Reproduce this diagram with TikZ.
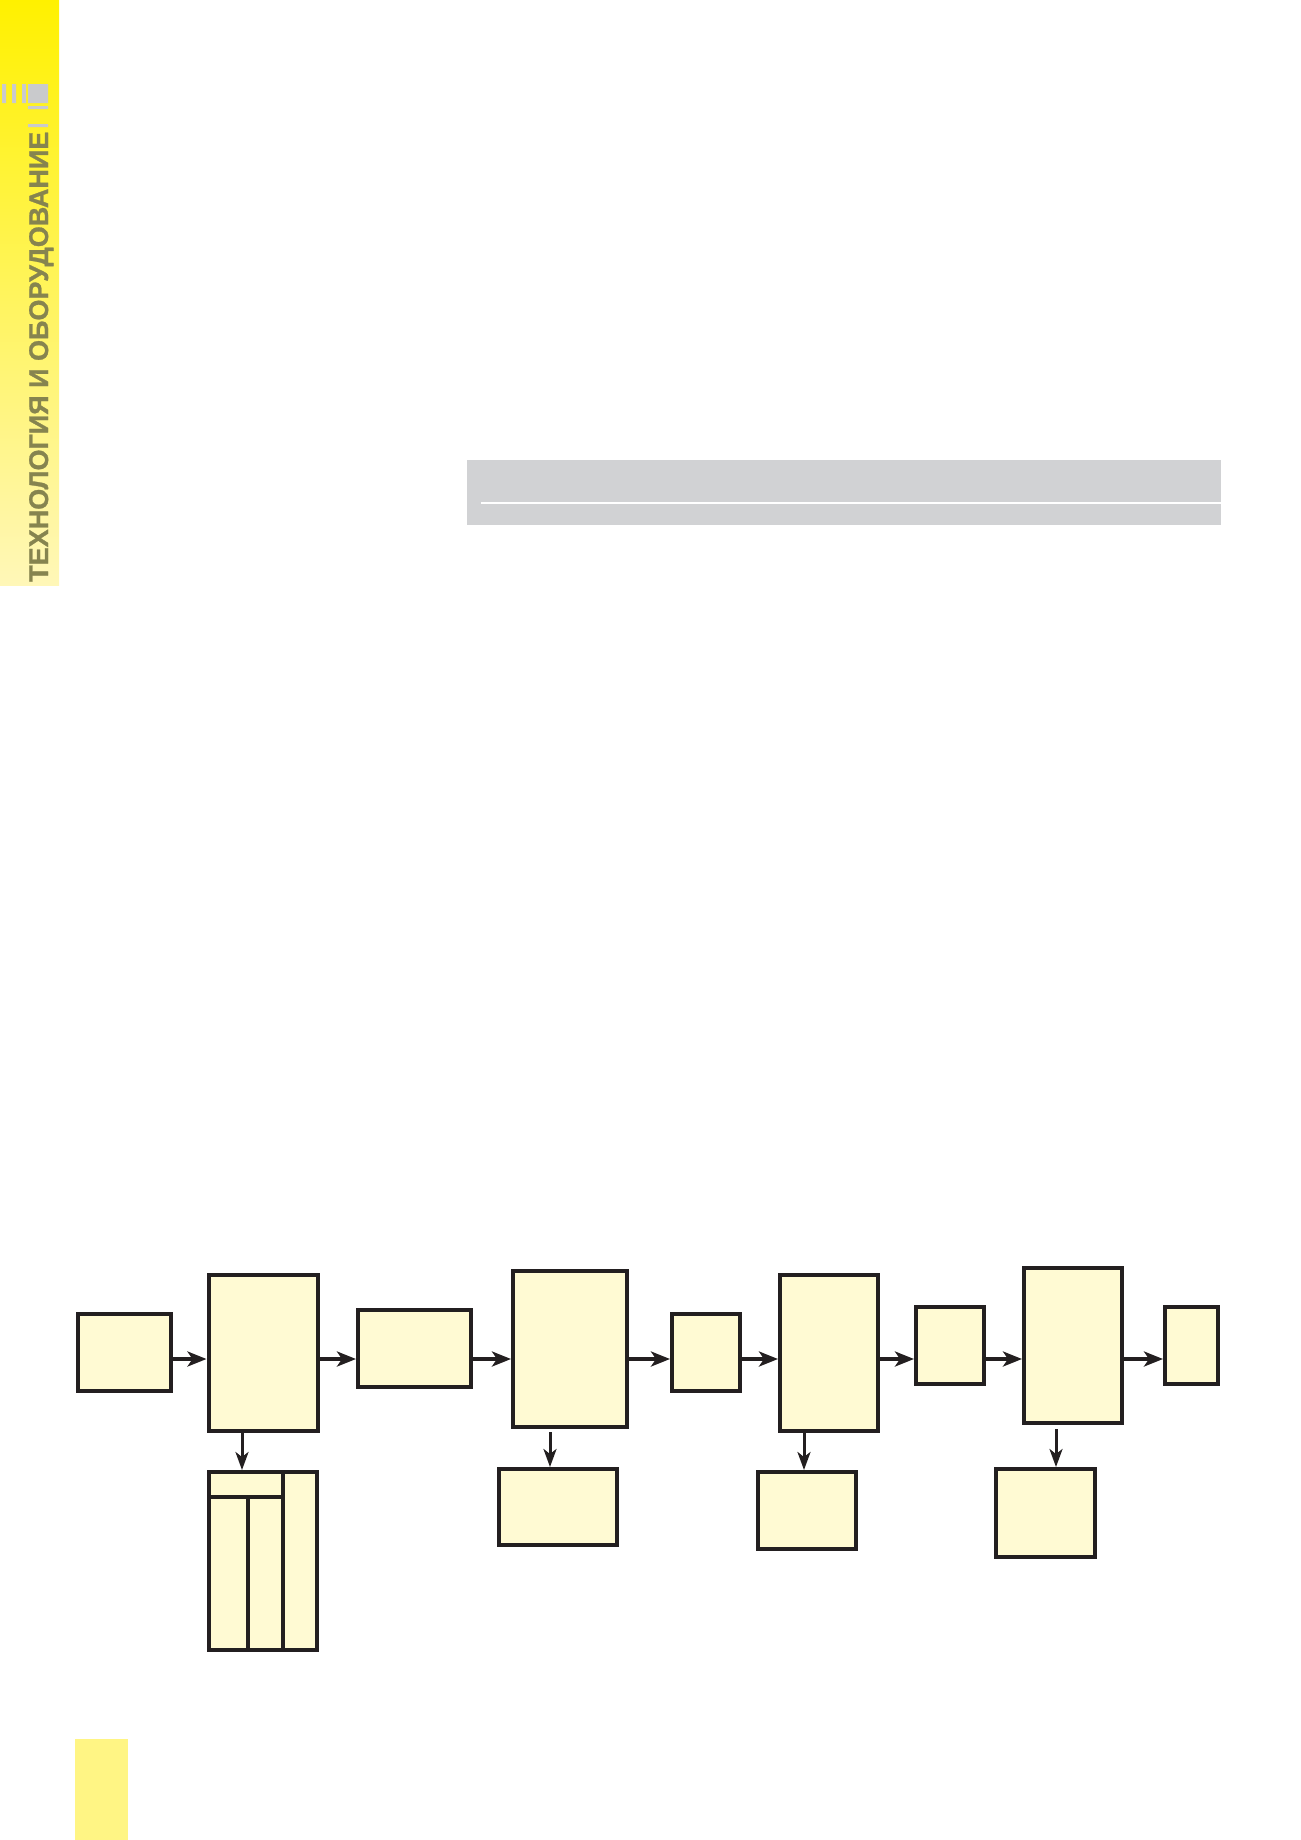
\documentclass[tikz,border=0pt]{standalone}
\usepackage{fontspec}
\usetikzlibrary{arrows.meta}
\newfontfamily\headfont{Liberation Sans Bold}[FakeBold=1]
\definecolor{boxfill}{HTML}{FFFAD3}
\definecolor{boxline}{HTML}{231F20}
\definecolor{barfill}{HTML}{D1D2D4}
\definecolor{stripTop}{HTML}{FFF100}
\definecolor{stripBot}{HTML}{FFF7B8}
\definecolor{stripText}{HTML}{86844F}
\definecolor{markgray}{HTML}{C9CACC}
\definecolor{pageyellow}{HTML}{FFF584}
\begin{document}
\begin{tikzpicture}[x=1pt,y=-1pt,
  block/.style={draw=boxline,fill=boxfill,line width=4pt,inner sep=0pt},
  flow/.style={every edge/.style={draw=boxline,line width=4pt,
    -{Stealth[length=19pt,width=15pt,inset=5pt]}}},
  drop/.style={every edge/.style={draw=boxline,line width=3pt,
    -{Stealth[length=18pt,width=13pt,inset=5pt]}}}]
  \useasboundingbox (0,0) rectangle (1301,1840);
  \shade[top color=stripTop,bottom color=stripBot] (0,0) rectangle (59,585);
  \fill[markgray] (2,84) rectangle (6,103) (12,84) rectangle (16,103)
    (22,84) rectangle (26,103) (28,84) rectangle (48,103)
    (28,106) rectangle (48,109) (28,124) rectangle (48,127);
  \node (title) [rotate=90, anchor=base west, inner sep=0pt, text=stripText,
    font=\headfont\fontsize{27}{30}\selectfont] at (48,582)
    {ТЕХНОЛОГИЯ И ОБОРУДОВАНИЕ};
  \fill[barfill] (467,460) rectangle (1221,525);
  \draw[white, line width=2.5pt] (481,503) -- (1221,503);
  \fill[pageyellow] (75,1739) rectangle (128,1840);

  \node (b1) [block, minimum width=93pt, minimum height=77pt] at (124.5,1352.5) {};
  \node (b2) [block, minimum width=109pt, minimum height=156pt] at (263,1353) {};
  \node (b3) [block, minimum width=113pt, minimum height=77pt] at (414.5,1348.5) {};
  \node (b4) [block, minimum width=114pt, minimum height=156pt] at (570,1349) {};
  \node (b5) [block, minimum width=68pt, minimum height=77pt] at (706,1352.5) {};
  \node (b6) [block, minimum width=98pt, minimum height=156pt] at (829,1353) {};
  \node (b7) [block, minimum width=68pt, minimum height=77pt] at (950,1345.5) {};
  \node (b8) [block, minimum width=98pt, minimum height=155pt] at (1073,1345.5) {};
  \node (b9) [block, minimum width=53pt, minimum height=77pt] at (1191.5,1345.5) {};
  \node (tab) [block, minimum width=108pt, minimum height=178pt] at (263,1561) {};
  \node (s4) [block, minimum width=118pt, minimum height=76pt] at (558,1507) {};
  \node (s6) [block, minimum width=98pt, minimum height=77pt] at (807,1510.5) {};
  \node (s8) [block, minimum width=99pt, minimum height=88pt] at (1045.5,1513) {};
  \draw[boxline, line width=4pt] ([yshift=-26.5pt]tab.north west) -- ([xshift=20pt,yshift=-26.5pt]tab.north)
    ([xshift=20pt]tab.north) -- ([xshift=20pt]tab.south)
    ([xshift=-15pt,yshift=-26.5pt]tab.north) -- ([xshift=-15pt]tab.south);

  \coordinate (axis) at (0,1359);
  \path[flow] (b1.east |- axis) edge (b2.west |- axis)
              (b2.east |- axis) edge (b3.west |- axis)
              (b3.east |- axis) edge (b4.west |- axis)
              (b4.east |- axis) edge (b5.west |- axis)
              (b5.east |- axis) edge (b6.west |- axis)
              (b6.east |- axis) edge (b7.west |- axis)
              (b7.east |- axis) edge (b8.west |- axis)
              (b8.east |- axis) edge (b9.west |- axis)
              ;
  \path[drop] ([xshift=-21pt]b2.south) edge ([xshift=-21pt]tab.north)
              ([xshift=-20pt,yshift=-3pt]b4.south) edge ([xshift=-8pt]s4.north)
              ([xshift=-25pt]b6.south) edge ([xshift=-3pt]s6.north)
              ([xshift=-17pt,yshift=-4pt]b8.south) edge ([xshift=10.5pt]s8.north)
              ;
\end{tikzpicture}
\end{document}
